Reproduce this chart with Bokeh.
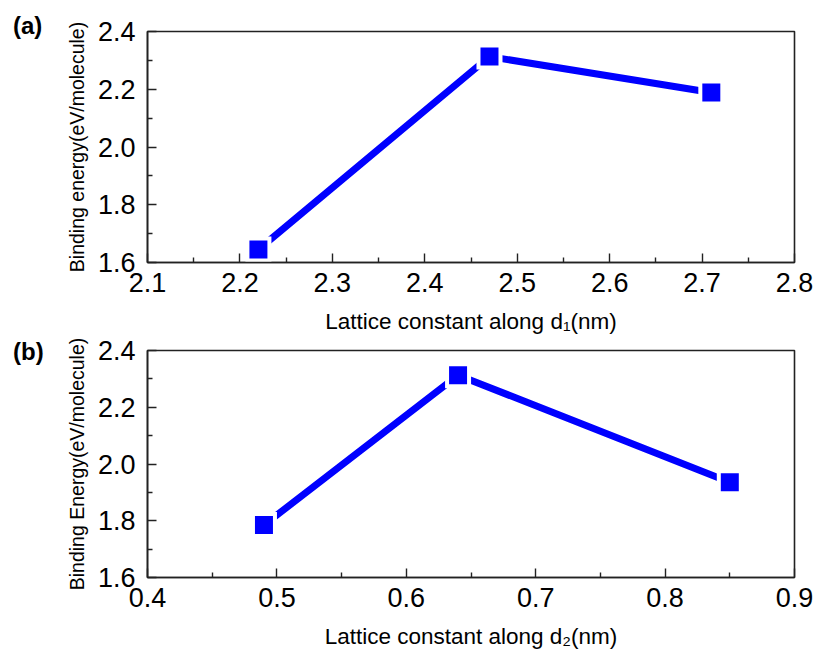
from bokeh.plotting import figure
from bokeh.layouts import column
from bokeh.models import Range1d, FixedTicker, NumeralTickFormatter
from bokeh.embed import file_html
from bokeh.resources import INLINE

# Panel (a): binding energy vs lattice constant along d1
d1_nm = [2.22, 2.47, 2.71]
energy_a = [1.645, 2.313, 2.189]

# Panel (b): binding energy vs lattice constant along d2
d2_nm = [0.49, 0.64, 0.85]
energy_b = [1.785, 2.313, 1.936]

y_ticks = [1.6, 1.8, 2.0, 2.2, 2.4]
y_minor = [1.7, 1.9, 2.1, 2.3]
xa_ticks = [2.1, 2.2, 2.3, 2.4, 2.5, 2.6, 2.7, 2.8]
xb_ticks = [0.4, 0.5, 0.6, 0.7, 0.8, 0.9]

FONT = "Liberation Sans"
BLUE = "#0000FF"


def panel(xs, ys, xr, xticks, xlabel, ylabel, tag, tag_standoff, top, height, bottom):
    p = figure(width=819, height=height, output_backend="svg", toolbar_location=None,
               x_range=Range1d(*xr), y_range=Range1d(1.6, 2.4),
               min_border_left=147, min_border_right=25,
               min_border_top=top, min_border_bottom=bottom)
    p.grid.visible = False
    p.outline_line_color = "#222222"
    p.outline_line_width = 1.6
    p.background_fill_color = "white"
    p.border_fill_color = "white"

    # panel tag, pulled to the far left and down beside the frame's top edge
    p.title.text = tag
    p.title.align = "left"
    p.title.offset = -134.5
    p.title.text_font = FONT
    p.title.text_font_size = "24px"
    p.title.text_font_style = "bold"
    p.title.text_color = "black"
    try:
        p.title.standoff = tag_standoff
    except Exception:
        p.title.standoff = 0

    step = xticks[1] - xticks[0]
    minor_x = [xticks[0] + step * (i + 0.5) for i in range(len(xticks) - 1)]
    p.xaxis.ticker = FixedTicker(ticks=xticks, minor_ticks=minor_x)
    p.yaxis.ticker = FixedTicker(ticks=y_ticks, minor_ticks=y_minor)
    p.xaxis.formatter = NumeralTickFormatter(format="0.0")
    p.yaxis.formatter = NumeralTickFormatter(format="0.0")

    for ax in (p.xaxis[0], p.yaxis[0]):
        ax.axis_line_width = 1.6
        ax.axis_line_color = "#222222"
        ax.major_tick_in = 9
        ax.major_tick_out = 0
        ax.minor_tick_in = 5
        ax.minor_tick_out = 0
        ax.major_tick_line_width = 1.4
        ax.minor_tick_line_width = 1.4
        ax.major_tick_line_color = "#222222"
        ax.minor_tick_line_color = "#222222"
        ax.major_label_text_font = FONT
        ax.major_label_text_font_size = "27px"
        ax.major_label_text_color = "black"
        ax.axis_label_text_font = FONT
        ax.axis_label_text_font_style = "normal"
        ax.axis_label_text_color = "black"
    p.xaxis.major_label_standoff = 10
    p.yaxis.major_label_standoff = 12

    p.xaxis.axis_label = xlabel
    p.xaxis.axis_label_text_font_size = "22.5px"
    p.xaxis.axis_label_standoff = 14
    p.yaxis.axis_label = ylabel
    p.yaxis.axis_label_text_font_size = "19.5px"
    p.yaxis.axis_label_standoff = 7

    # connecting line, white halo under each marker, then the marker
    p.line(xs, ys, line_color=BLUE, line_width=7, line_cap="round")
    p.scatter(xs, ys, marker="square", size=26, fill_color="white", line_color=None)
    p.scatter(xs, ys, marker="square", size=18, fill_color=BLUE, line_color=None)
    return p


pa = panel(d1_nm, energy_a, (2.1, 2.8), xa_ticks,
           "Lattice constant along d\u2081(nm)", "Binding energy(eV/molecule)",
           "(a)", -15, 31, 336, 74)
pb = panel(d2_nm, energy_b, (0.4, 0.9), xb_ticks,
           "Lattice constant along d\u2082(nm)", "Binding Energy(eV/molecule)",
           "(b)", -28, 14, 315, 70)

layout = column(pa, pb, spacing=0)
open("out.html", "w").write(file_html(layout, INLINE))
